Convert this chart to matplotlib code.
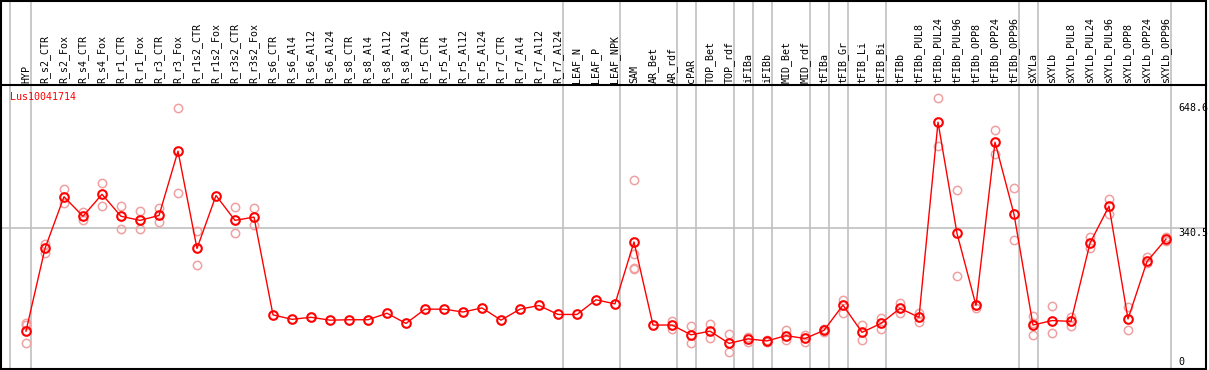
import matplotlib
matplotlib.use("Agg")
import matplotlib.pyplot as plt
import matplotlib.transforms as mtransforms
from matplotlib.patches import Rectangle

# sample names along the top
samples = [
    "HYP", "R_s2_CTR", "R_s2_Fox", "R_s4_CTR", "R_s4_Fox", "R_r1_CTR", "R_r1_Fox",
    "R_r3_CTR", "R_r3_Fox", "R_r1s2_CTR", "R_r1s2_Fox", "R_r3s2_CTR", "R_r3s2_Fox",
    "R_s6_CTR", "R_s6_Al4", "R_s6_Al12", "R_s6_Al24", "R_s8_CTR", "R_s8_Al4",
    "R_s8_Al12", "R_s8_Al24", "R_r5_CTR", "R_r5_Al4", "R_r5_Al12", "R_r5_Al24",
    "R_r7_CTR", "R_r7_Al4", "R_r7_Al12", "R_r7_Al24", "LEAF_N", "LEAF_P", "LEAF_NPK",
    "SAM", "AR_Bet", "AR_rdf", "cPAR", "TOP_Bet", "TOP_rdf", "iFIBa", "iFIBb",
    "MID_Bet", "MID_rdf", "tFIBa", "tFIB_Gr", "tFIB_Li", "tFIB_Bi", "tFIBb",
    "tFIBb_PUL8", "tFIBb_PUL24", "tFIBb_PUL96", "tFIBb_OPP8", "tFIBb_OPP24",
    "tFIBb_OPP96", "sXYLa", "sXYLb", "sXYLb_PUL8", "sXYLb_PUL24", "sXYLb_PUL96",
    "sXYLb_OPP8", "sXYLb_OPP24", "sXYLb_OPP96",
]

# mean expression per sample
means = [
    88, 291, 418, 370, 424, 370, 360, 372, 530, 291, 421, 360, 368,
    128, 117, 122, 115, 116, 116, 132, 107, 142, 142, 135, 145,
    115, 142, 151, 129, 129, 165, 155,
    307, 103, 103, 79, 88, 58, 69, 64, 77, 70, 90, 152, 85, 107, 144,
    122, 601, 328, 151, 552, 375,
    103, 114, 112, 304, 395, 118, 259, 314,
]

# individual replicates (only the ones that show apart from the mean)
reps = [
    [108, 104, 58], [303, 279], [437, 402], [380, 361], [451, 396], [396, 340],
    [382, 338], [390, 357], [635, 426], [334, 250], [], [394, 328], [390, 348],
    [], [], [], [], [], [], [], [], [], [], [], [],
    [], [], [], [], [], [], [],
    [458, 277, 244, 240], [], [113, 93], [101, 58], [106, 70], [81, 36], [73, 62],
    [66, 61], [91, 66], [79, 62], [93, 87], [165, 133], [103, 67], [120, 93],
    [156, 133],
    [133, 111], [660, 543], [434, 223], [153, 145], [581, 522], [439, 311],
    [125, 79, 108], [150, 83], [122, 101], [319, 291], [412, 376], [147, 90],
    [269, 256], [318, 310],
]

# vertical separators (after these sample indexes)
sep_after = [0, 28, 31, 34, 35, 37, 38, 39, 41, 42, 43, 45, 52, 53, 60]

right_ticks = [648.6, 340.5]
gene = "Lus10041714"

W, H = 1209, 370
fig = plt.figure(figsize=(W / 100, H / 100), dpi=100)
ax_l, ax_r, ax_b, ax_t = 1, 1206, 369, 85
ax = fig.add_axes([ax_l / W, (H - ax_b) / H, (ax_r - ax_l) / W, (ax_b - ax_t) / H])

mono = "DejaVu Sans Mono"
fs = 7.2
grey = "#c0c0c0"

x = list(range(len(samples)))
ax.set_xlim(-25 / 19, -25 / 19 + (ax_r - ax_l) / 19)
ax.set_ylim(-4.91, 692.3)
for s in ax.spines.values():
    s.set_visible(False)
ax.set_xticks([])
ax.set_yticks([])

top_ext = 1 + (ax_t - 1) / (ax_b - ax_t)
ax.axvline(-0.83, ymin=0, ymax=top_ext, color=grey, lw=1.2, clip_on=False, zorder=1)
for i in sep_after:
    ax.axvline(i + 0.25, ymin=0, ymax=top_ext, color=grey, lw=1.2, clip_on=False, zorder=1)
ax.axhline(right_ticks[1], color=grey, lw=1.2, zorder=1)

for i, r in enumerate(reps):
    if r:
        ax.plot([i] * len(r), r, "o", ms=6, mfc="none", mec="#f0a0a0", mew=1.1, zorder=2)

ax.plot(x, means, "-", color="red", lw=1, zorder=3)
ax.plot(x, means, "o", ms=6.2, mfc="none", mec="red", mew=1.5, zorder=4)

# header labels
tr = mtransforms.blended_transform_factory(ax.transData, ax.transAxes)
for i, name in enumerate(samples):
    ax.text(i, 1 + 2 / (ax_b - ax_t), name, transform=tr, rotation=90,
            ha="center", va="bottom", family=mono, fontsize=fs, clip_on=False)

ax.text(-0.85, 1 - 7 / (ax_b - ax_t), gene, transform=tr, color="red",
        family=mono, fontsize=fs, ha="left", va="top")

lx = (1178 - 26) / 19
for v in right_ticks:
    ax.text(lx, v, "%.1f" % v, family=mono, fontsize=fs, ha="left", va="top")
ax.text(lx, 0, "0", family=mono, fontsize=fs, ha="left", va="bottom")

# frame lines
fig.patches.append(Rectangle((ax_l / W, (H - ax_b) / H), (ax_r - ax_l) / W, (ax_b - 1) / H,
                             transform=fig.transFigure, fill=False, ec="black", lw=1.5))
fig.lines.append(plt.Line2D([ax_l / W, ax_r / W], [(H - ax_t) / H] * 2,
                            transform=fig.transFigure, color="black", lw=1.5))

fig.savefig("out.png", dpi=100)
